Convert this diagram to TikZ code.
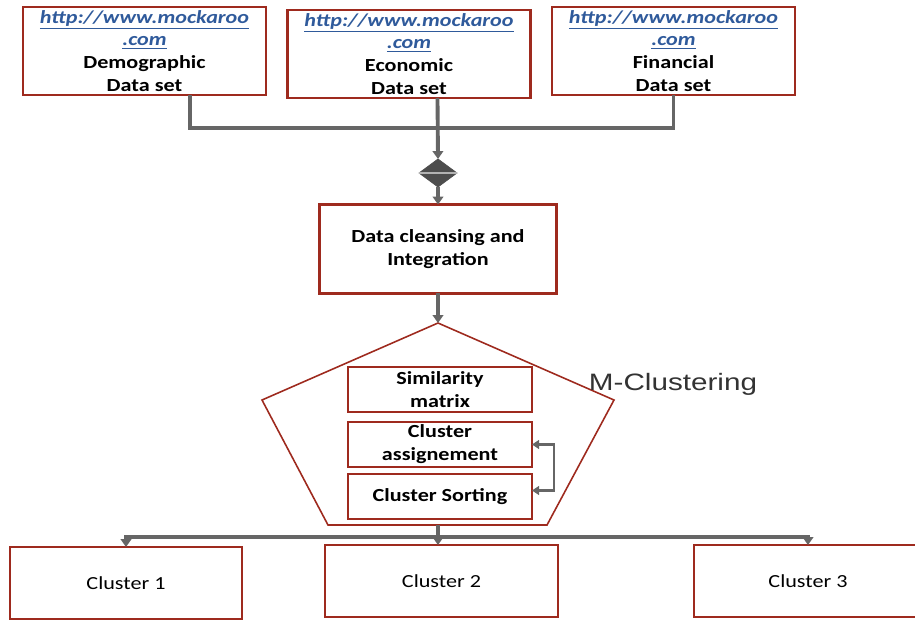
\documentclass[tikz,border=0pt]{standalone}
\usepackage{fontspec}
\setmainfont{Carlito}[FakeStretch=1.2]
\newfontfamily\labelfont{Liberation Sans}[FakeStretch=1.25]
\usepackage{tikz}
\usetikzlibrary{positioning, arrows.meta, shapes.geometric}
\usepackage{xcolor}
\definecolor{boxred}{HTML}{9E2A1E}
\definecolor{linkgray}{HTML}{666666}
\definecolor{mergegray}{HTML}{4D4D4D}
\definecolor{urlblue}{HTML}{2F5A9B}
\newcommand{\mock}{\textcolor{urlblue}{\underline{\textit{http://www.mockaroo}}}\\\textcolor{urlblue}{\underline{\textit{.com}}}\\}

\begin{document}
\begin{tikzpicture}[x=0.02cm, y=-0.02cm,
                  txt/.style={align=center, font=\bfseries\fontsize{10.5}{13}\selectfont},
                  source/.style={txt, draw=boxred, line width=1.4pt, inner sep=0pt,
                                 minimum width=4.86cm, minimum height=1.76cm},
                  box/.style={txt, draw=boxred, line width=1.4pt, inner sep=2pt},
                  stepbox/.style={txt, draw=boxred, line width=1.1pt, inner sep=0pt,
                                  minimum width=3.68cm, minimum height=0.9cm},
                  cluster/.style={draw=boxred, line width=1.4pt, minimum height=1.44cm,
                                  font=\fontsize{10.5}{13}\selectfont},
                  merge/.style={diamond, fill=mergegray, draw=mergegray, inner sep=0pt,
                                minimum width=0.76cm, minimum height=0.56cm},
                  hull/.style={draw=boxred, line width=0.9pt, line join=miter},
                  link/.style={draw=linkgray, line width=2.2pt},
                  backarrow/.style={draw=linkgray, line width=1.4pt, {Triangle[width=5pt,length=4pt]}-{Triangle[width=5pt,length=4pt]}},
                  >={Triangle[width=6pt,length=4.5pt]},
                  every node/.append style={outer sep=0pt},
            ]
            \useasboundingbox (0,0) rectangle (915,619);
            \clip (0,0) rectangle (915,619);

            % Row 1: data sources
            \node[source] (demo) at (144.5,51) {\mock Demographic\\Data set};
            \node[source] (eco) at (409,54) {\mock Economic\\Data set};
            \node[source] (fin) at (673.5,51) {\mock Financial\\Data set};

            % Row 2: merge and cleansing
            \coordinate (bus) at (438,128);
            \node[merge] (merge) at (438,173) {};
            \draw[gray!60, line width=0.8pt] (merge.west) -- (merge.east);
            \node[box, minimum width=4.74cm, minimum height=1.78cm] (clean) at (438,249)
            {Data cleansing and\\Integration};

            % Row 3: M-Clustering block
            \coordinate (ptop) at (438,323);
            \coordinate (pbot) at (438,525);
            \draw[hull] (ptop) -- (262,400) -- (328,525) -- (547,525) -- (614,400) -- cycle;
            \node[font=\labelfont\fontsize{13.5}{15}\selectfont, text=black!80] (mclust) at (673,384) {M-Clustering};
            \node[stepbox] (sim) at (440,389.5) {Similarity\\matrix};
            \node[stepbox, below=0.2cm of sim] (assign) {Cluster\\assignement};
            \node[stepbox, below=0.14cm of assign] (sort) {Cluster Sorting};

            % Row 4: clusters
            \coordinate (split) at (438,537);
            \node[cluster, minimum width=4.64cm] (c1) at (126,583) {Cluster 1};
            \node[cluster, minimum width=4.66cm] (c2) at (441.5,581) {Cluster 2};
            \node[cluster, minimum width=4.56cm] (c3) at (808,581) {Cluster 3};

            % Arrows
            \draw[link] ([xshift=0.91cm]demo.south) |- (bus) -| (fin.south);
            \draw[link, ->] ([xshift=0.57cm]eco.south) -- (merge.north);
            \draw[link, line width=1.8pt, ->] (merge.south) -- (clean.north);
            \draw[link, line width=1.8pt, ->] (clean.south) -- (ptop);
            \draw[backarrow] ([yshift=0.12cm]sort.east) -- ++(22,0) |- (assign.east);
            \draw[link] (pbot) -- (split);
            \draw[link, ->] (split) -| (c1.north);
            \draw[link, ->] (split) -| (c3.north);
            \draw[link, ->] (split) -- (split |- c2.north);

      \end{tikzpicture}
\end{document}
